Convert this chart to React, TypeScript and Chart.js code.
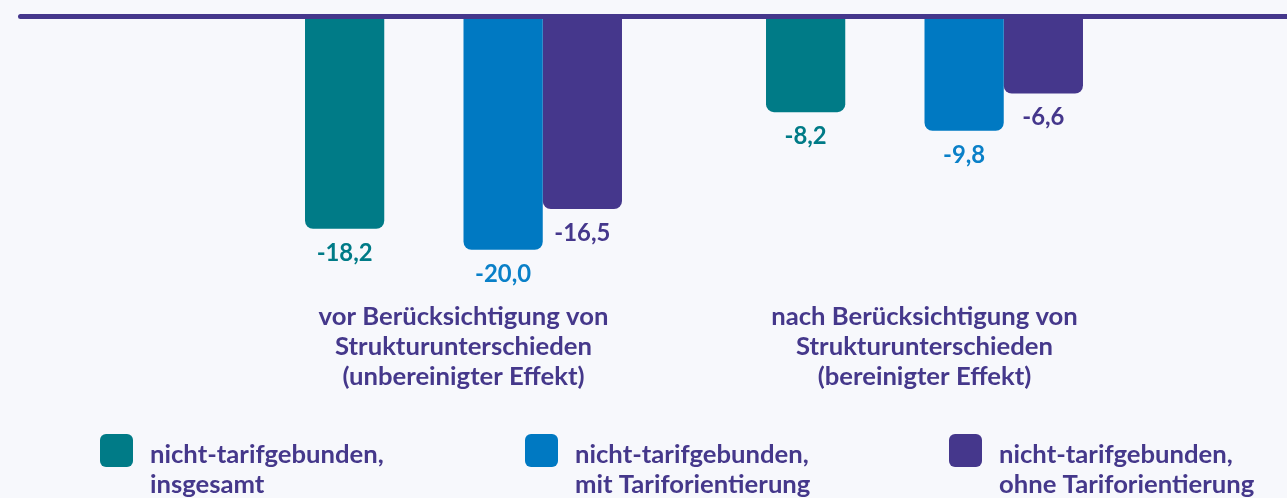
import React, { useEffect, useRef } from "react";
import { Chart, registerables } from "chart.js";

Chart.register(...registerables);

// ---- data ----
const categories: string[][] = [
  ["vor Berücksichtigung von", "Strukturunterschieden", "(unbereinigter Effekt)"],
  ["nach Berücksichtigung von", "Strukturunterschieden", "(bereinigter Effekt)"],
];
const seriesLabels: string[][] = [
  ["nicht-tarifgebunden,", "insgesamt"],
  ["nicht-tarifgebunden,", "mit Tariforientierung"],
  ["nicht-tarifgebunden,", "ohne Tariforientierung"],
];
const insgesamt = [-18.2, -8.2];
const mitTariforientierung = [-20.0, -9.8];
const ohneTariforientierung = [-16.5, -6.6];
const spacer = [null, null];

const COLORS = ["#007B87", "#0079C2", "#45378C"];
const LABEL_COLORS = ["#007B87", "#0A80C8", "#45378C"];
const TEXT = "#45388B";
const BG = "#F7F8FC";
const FONT = "Lato";

function fitSize(text: string, target: number) {
  const ctx = document.createElement("canvas").getContext("2d")!;
  ctx.font = `bold 100px ${FONT}`;
  return (100 * target) / ctx.measureText(text).width;
}

export default function App() {
  const ref = useRef<HTMLCanvasElement>(null);

  useEffect(() => {
    const catSize = fitSize("vor Berücksichtigung von", 290);
    const legSize = fitSize("nicht-tarifgebunden,", 234);
    const valSize = fitSize("-18,2", 56);

    const topLine = {
      id: "topLine",
      afterDatasetsDraw(chart: any) {
        const ctx = chart.ctx;
        const y = chart.scales.y.getPixelForValue(0);
        ctx.save();
        ctx.strokeStyle = "#45378C";
        ctx.lineWidth = 5;
        ctx.lineCap = "round";
        ctx.beginPath();
        ctx.moveTo(20.5, y);
        ctx.lineTo(1300, y);
        ctx.stroke();
        ctx.restore();
      },
    };

    const valueLabels = {
      id: "valueLabels",
      afterDatasetsDraw(chart: any) {
        const ctx = chart.ctx;
        ctx.save();
        ctx.font = `bold ${valSize}px ${FONT}`;
        ctx.textAlign = "center";
        ctx.textBaseline = "middle";
        chart.data.datasets.forEach((ds: any, di: number) => {
          if (ds.colorIndex === undefined) return;
          const meta = chart.getDatasetMeta(di);
          meta.data.forEach((el: any, i: number) => {
            const v = ds.data[i];
            if (v === null || v === undefined) return;
            ctx.fillStyle = LABEL_COLORS[ds.colorIndex];
            ctx.fillText(v.toFixed(1).replace(".", ","), el.x, el.y + 24);
          });
        });
        ctx.restore();
      },
    };

    const legendPlugin = {
      id: "customLegend",
      afterDraw(chart: any) {
        const ctx = chart.ctx;
        const xs = [100, 525, 949];
        ctx.save();
        seriesLabels.forEach((lines, i) => {
          const x = xs[i];
          ctx.fillStyle = COLORS[i];
          ctx.beginPath();
          (ctx as any).roundRect(x, 434, 33, 33, 6);
          ctx.fill();
          ctx.fillStyle = TEXT;
          ctx.font = `bold ${legSize}px ${FONT}`;
          ctx.textAlign = "left";
          ctx.textBaseline = "alphabetic";
          lines.forEach((l, li) => ctx.fillText(l, x + 50, 463 + li * 30));
        });
        ctx.restore();
      },
    };

    const chart = new Chart(ref.current!, {
      type: "bar",
      data: {
        labels: categories as any,
        datasets: [
          { label: seriesLabels[0].join(" "), data: insgesamt, backgroundColor: COLORS[0], colorIndex: 0 } as any,
          { label: "", data: spacer, backgroundColor: "transparent" } as any,
          { label: seriesLabels[1].join(" "), data: mitTariforientierung, backgroundColor: COLORS[1], colorIndex: 1 } as any,
          { label: seriesLabels[2].join(" "), data: ohneTariforientierung, backgroundColor: COLORS[2], colorIndex: 2 } as any,
        ],
      },
      options: {
        animation: false,
        responsive: false,
        devicePixelRatio: 1,
        layout: { padding: { top: 16.5, left: 233, right: 132, bottom: 88 } },
        datasets: {
          bar: {
            categoryPercentage: 0.6876,
            barPercentage: 1,
            borderRadius: 8,
            borderWidth: 0,
          },
        },
        plugins: {
          legend: { display: false },
          tooltip: { enabled: false },
        },
        scales: {
          x: {
            grid: { display: false, drawTicks: false },
            border: { display: false },
            ticks: {
              color: TEXT,
              padding: 327 - 0.387 * catSize - 15 - 290,
              font: { family: FONT, weight: "bold", size: catSize, lineHeight: "30px" } as any,
              maxRotation: 0,
              autoSkip: false,
            },
            afterFit: (scale: any) => {
              scale.height = 120;
            },
          },
          y: {
            display: false,
            min: -23.44,
            max: 0,
          },
        },
      },
      plugins: [topLine, valueLabels, legendPlugin],
    });
    return () => chart.destroy();
  }, []);

  return (
    <div style={{ position: "absolute", left: 0, top: 0, width: 1287, height: 498, background: BG }}>
      <canvas ref={ref} width={1287} height={498} style={{ display: "block" }} />
    </div>
  );
}
